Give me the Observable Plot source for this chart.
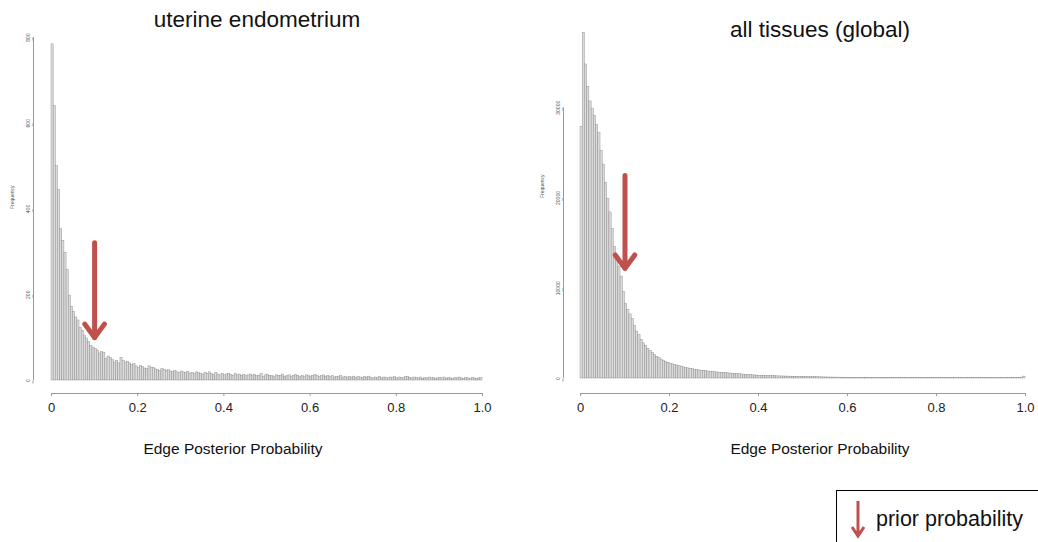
<!DOCTYPE html>
<html><head><meta charset="utf-8">
<script src="https://cdn.jsdelivr.net/npm/d3@7"></script>
<script src="https://cdn.jsdelivr.net/npm/@observablehq/plot@0.6"></script>
<style>
body{margin:0;background:#fff;font-family:"Liberation Sans",Arial,sans-serif;color:#111;}
#wrap{position:relative;width:1038px;height:542px;overflow:hidden;background:#fff;}
.abs{position:absolute;white-space:nowrap;}
.title{font-size:22.5px;transform:translateX(-50%);}
.xlab{font-size:15.5px;transform:translateX(-50%);}
#legend{position:absolute;left:836px;top:490px;width:230px;height:70px;border:1px solid #000;box-sizing:border-box;}
#legend span{position:absolute;left:39px;top:16px;font-size:21.5px;}
#legend svg{position:absolute;left:12px;top:8px;}
</style></head><body>
<div id="wrap">
  <div class="abs title" style="left:257px;top:7px">uterine endometrium</div>
  <div class="abs title" style="left:820px;top:17px">all tissues (global)</div>
  <div class="abs xlab" style="left:233px;top:440px">Edge Posterior Probability</div>
  <div class="abs xlab" style="left:820px;top:440px">Edge Posterior Probability</div>
  <div id="left" class="abs" style="left:0;top:0"></div>
  <div id="right" class="abs" style="left:519px;top:0"></div>
  <div id="legend">
    <svg width="20" height="42"><path d="M9 2 L9 36 M3 28 L9 37 L15 28" fill="none" stroke="#c0504d" stroke-width="3"/></svg>
    <span>prior probability</span>
  </div>
</div>
<script>
// ---- data ----
const binWidth = 0.005;
const uterineCounts = [
784,640,500,444,353,326,298,258,198,172,160,147,140,123,116,105,98,90,81,77,
74,70,63,66,65,51,56,53,48,42,46,40,53,45,42,44,40,36,38,33,
30,34,31,28,27,33,30,29,26,24,23,27,25,22,24,21,20,23,19,18,
21,19,17,20,16,18,15,19,17,16,14,18,16,19,15,13,17,14,12,15,
12,14,16,13,11,15,12,14,11,13,10,12,14,11,13,10,11,15,9,12,
13,10,11,9,12,10,11,14,9,10,12,9,11,13,10,8,11,9,12,10,
9,11,13,10,8,10,12,9,11,8,10,7,9,8,10,7,9,6,8,7,
9,6,8,7,6,8,7,9,6,5,7,6,8,5,7,6,5,7,6,8,
5,7,6,5,8,9,6,5,7,6,5,7,4,6,5,7,5,6,4,5,
6,5,7,4,6,5,4,6,5,7,5,4,6,5,4,6,5,4,5,6];
const globalCounts = [
27900,38300,34800,32300,30700,29900,29100,28100,27200,25200,23700,21700,19900,18400,16600,14600,13500,12400,11300,9600,
8300,7600,7100,6600,5800,5200,4800,4300,3900,3600,3300,3050,2800,2600,2400,2250,2100,1980,1850,1750,
1650,1570,1500,1440,1370,1300,1240,1180,1120,1070,1020,980,940,900,860,830,800,770,740,710,
690,670,650,630,610,590,570,550,530,510,490,470,450,430,410,390,370,350,335,320,
310,300,290,280,270,262,255,248,240,233,228,222,216,210,204,198,192,186,180,174,
168,162,156,150,145,140,135,130,125,120,116,112,108,105,102,99,96,93,90,88,
86,84,82,80,78,76,74,72,71,70,68,67,66,65,63,62,61,60,59,58,
57,56,55,55,54,53,52,52,51,50,50,49,48,48,47,47,46,45,45,44,
44,43,43,42,42,41,41,40,40,40,39,39,38,38,38,37,37,36,36,36,
35,35,35,34,34,34,33,33,33,33,32,32,32,32,31,31,31,40,60,210];
const xTicks = [0, 0.2, 0.4, 0.6, 0.8, 1.0];
const xTickLabels = ["0", "0.2", "0.4", "0.6", "0.8", "1.0"];
const uterineYTicks = [0, 200, 400, 600, 800];
const globalYTicks = [0, 10000, 20000, 30000];
const priorProbability = 0.1;
const uterineArrowY = [321, 100];
const globalArrowY = [22500, 12200];

const RED = "#c0504d";
const FONT = "'Liberation Sans', Arial, sans-serif";

function histogram(counts, o) {
  const bins = counts.map((c, i) => ({x1: i * binWidth, x2: (i + 1) * binWidth, count: c}));
  const arrow = [{x: priorProbability, y1: o.arrowY[0], y2: o.arrowY[1]}];
  const yTop = o.yTicks[o.yTicks.length - 1];
  return Plot.plot({
    width: 519, height: 430,
    marginLeft: o.ml, marginRight: o.mr, marginTop: o.mt, marginBottom: o.mb,
    x: {domain: [0, 1]},
    y: {domain: [0, o.yMax]},
    style: {fontFamily: FONT, background: "transparent", color: "#444"},
    marks: [
      Plot.rectY(bins, {x1: "x1", x2: "x2", y: "count", fill: "#dadada", stroke: "#858585", strokeWidth: 0.4, inset: 0}),
      Plot.ruleY([0], {x1: 0, x2: 1, dy: o.dy, stroke: "#999", strokeWidth: 1}),
      Plot.axisX({ticks: xTicks, tickFormat: (d, i) => xTickLabels[i], dy: o.dy, tickSize: 3, tickPadding: 6, fontSize: 13, stroke: "#999", fill: "#222", label: null}),
      Plot.ruleX([0], {y1: 0, y2: yTop, dx: o.dx, stroke: "#999", strokeWidth: 1}),
      Plot.axisY({ticks: o.yTicks, tickFormat: d => String(d), dx: o.dx, tickSize: 3, tickPadding: 2, fontSize: 5, rotate: -90, textAnchor: "middle", stroke: "#999", fill: "#555", label: null}),
      Plot.text(["Frequency"], {frameAnchor: "left", rotate: -90, dx: o.dx - 21, fontSize: 5, fill: "#555"}),
      Plot.arrow(arrow, {x1: "x", x2: "x", y1: "y1", y2: "y2", stroke: RED, strokeWidth: 5, headLength: 5, headAngle: 72})
    ]
  });
}

document.getElementById("left").append(histogram(uterineCounts, {
  ml: 51, mr: 37, mt: 37, mb: 50, yMax: 800, yTicks: uterineYTicks, dx: -18, dy: 13, arrowY: uterineArrowY
}));
document.getElementById("right").append(histogram(globalCounts, {
  ml: 61, mr: 13, mt: 17, mb: 52, yMax: 40000, yTicks: globalYTicks, dx: -17, dy: 15, arrowY: globalArrowY
}));
</script>
</body></html>
